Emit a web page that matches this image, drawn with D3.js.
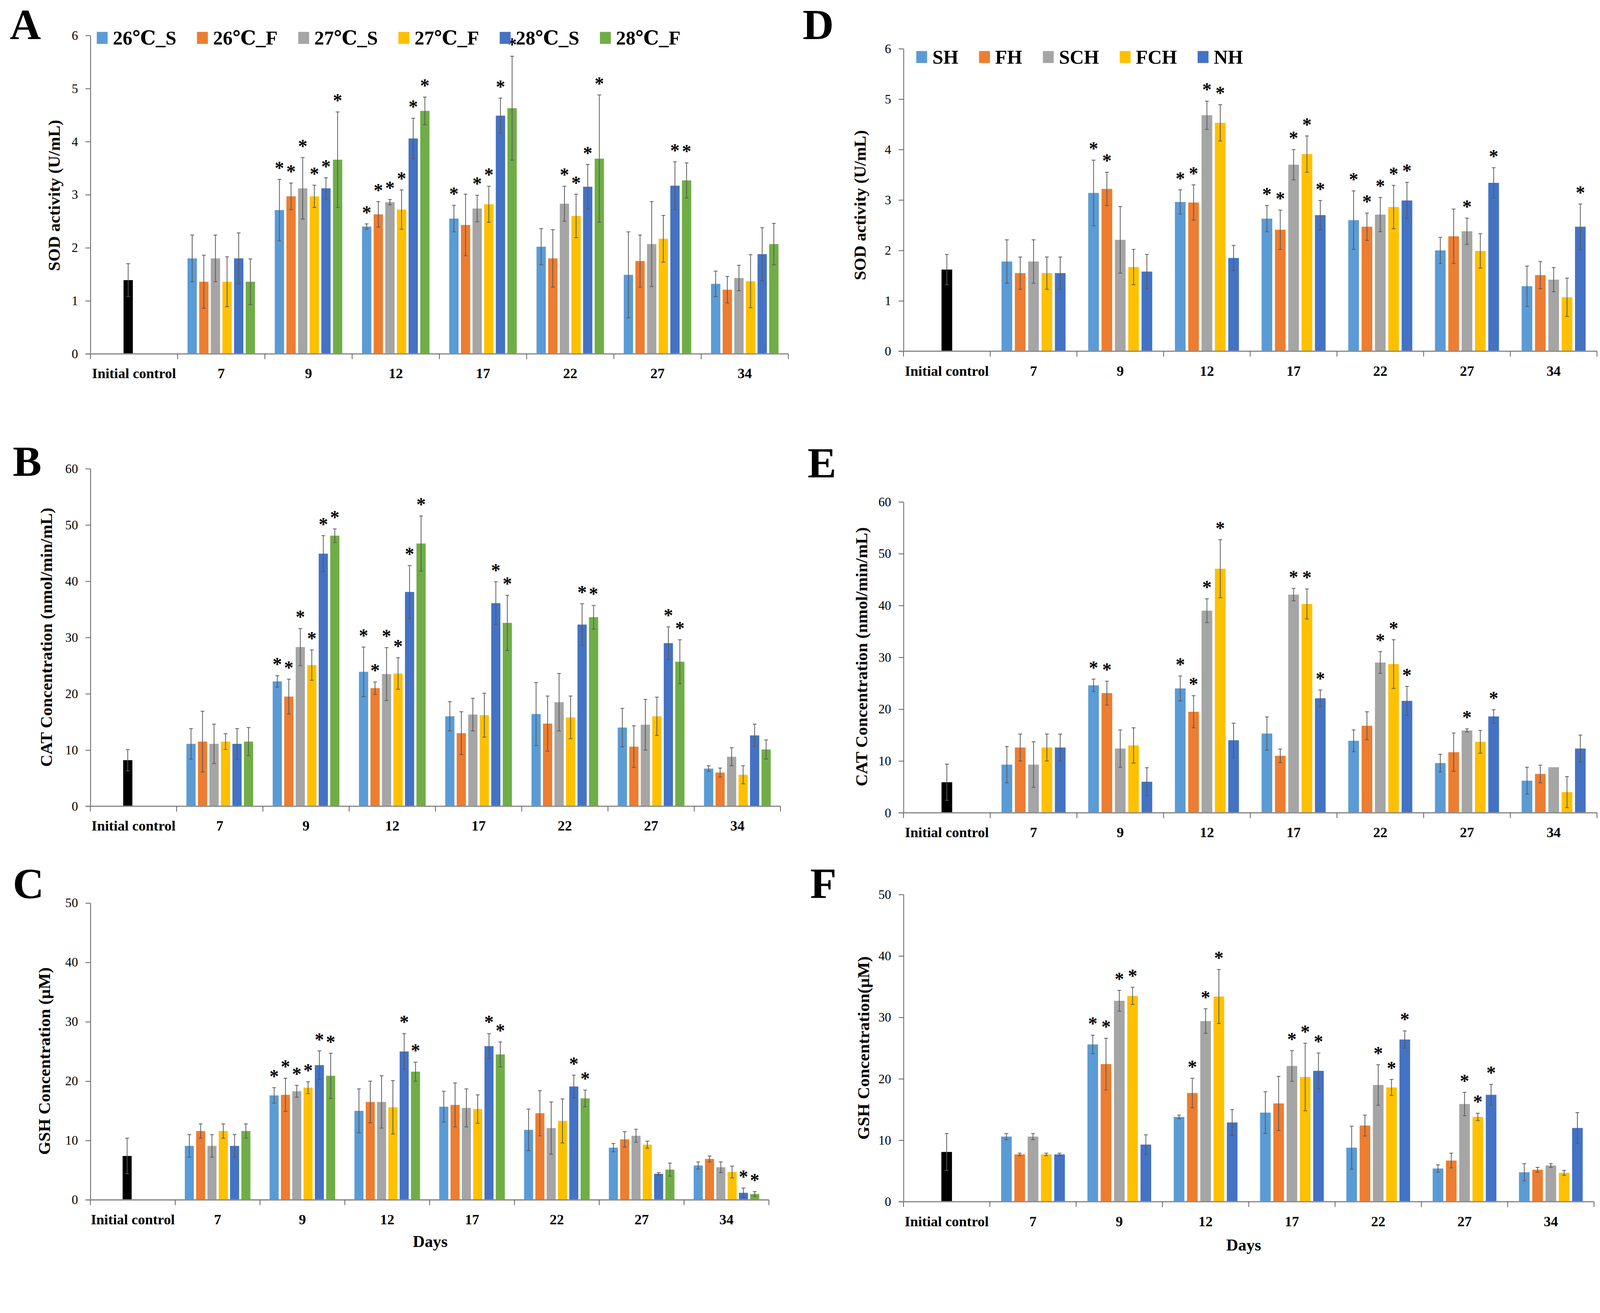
<!DOCTYPE html>
<html><head><meta charset="utf-8">
<script src="https://cdn.jsdelivr.net/npm/d3@7"></script>
<style>html,body{margin:0;padding:0;background:#fff;overflow:hidden}svg{display:block;width:100vw;height:auto}</style>
</head><body>
<svg id="chart" viewBox="0 0 4266 3361" preserveAspectRatio="xMinYMin meet"></svg>
<script>
// ---------------- DATA ----------------
const categories = ["Initial control","7","9","12","17","22","27","34"];
const tempSeries = ["26℃_S","26℃_F","27℃_S","27℃_F","28℃_S","28℃_F"];
const habSeries = ["SH","FH","SCH","FCH","NH"];
const tempColors = ["#5B9BD5","#ED7D31","#A5A5A5","#FFC000","#4472C4","#70AD47"];
const habColors = ["#5B9BD5","#ED7D31","#A5A5A5","#FFC000","#4472C4"];
const controlColor = "#000000";
const yTicksSOD = [0,1,2,3,4,5,6];
const yTicksCAT = [0,10,20,30,40,50,60];
const yTicksGSH = [0,10,20,30,40,50];

// A: SOD, temperature groups  (control = [mean, sd])
const sodTempControl = [1.39, 0.31];
const sodTempMean = [
 [1.80,2.71,2.40,2.55,2.02,1.49,1.32],
 [1.36,2.97,2.63,2.43,1.80,1.75,1.21],
 [1.80,3.12,2.86,2.74,2.83,2.07,1.43],
 [1.36,2.97,2.72,2.82,2.60,2.17,1.37],
 [1.80,3.12,4.06,4.49,3.15,3.17,1.88],
 [1.36,3.66,4.58,4.63,3.68,3.27,2.07]];
const sodTempErr = [
 [0.44,0.58,0.05,0.25,0.34,0.81,0.24],
 [0.50,0.25,0.24,0.58,0.54,0.49,0.25],
 [0.44,0.58,0.05,0.25,0.33,0.80,0.24],
 [0.47,0.21,0.37,0.34,0.41,0.44,0.50],
 [0.48,0.20,0.38,0.33,0.42,0.45,0.50],
 [0.43,0.90,0.26,0.98,1.20,0.33,0.39]];
const sodTempSig = [
 [0,1,1,1,0,0,0],
 [0,1,1,0,0,0,0],
 [0,1,1,1,1,0,0],
 [0,1,1,1,1,0,0],
 [0,1,1,1,1,1,0],
 [0,1,1,1,1,1,0]];

// B: CAT, temperature groups
const catTempControl = [8.2, 1.9];
const catTempMean = [
 [11.1,22.2,23.9,16.0,16.4,14.0,6.7],
 [11.5,19.5,21.0,13.0,14.7,10.6,6.0],
 [11.1,28.3,23.5,16.3,18.5,14.5,8.8],
 [11.5,25.1,23.6,16.2,15.8,16.0,5.6],
 [11.1,44.9,38.1,36.1,32.3,29.0,12.6],
 [11.5,48.1,46.7,32.6,33.6,25.7,10.1]];
const catTempErr = [
 [2.7,1.0,4.4,2.6,5.6,3.4,0.5],
 [5.4,3.1,1.1,3.8,4.9,3.7,0.8],
 [3.5,3.3,4.7,2.9,5.1,4.5,1.6],
 [1.4,2.7,2.8,3.9,3.8,3.4,1.6],
 [2.7,3.2,4.7,3.8,3.7,2.9,2.0],
 [2.5,1.2,4.9,4.9,2.1,3.9,1.7]];
const catTempSig = [
 [0,1,1,0,0,0,0],
 [0,1,1,0,0,0,0],
 [0,1,1,0,0,0,0],
 [0,1,1,0,0,0,0],
 [0,1,1,1,1,1,0],
 [0,1,1,1,1,1,0]];

// C: GSH, temperature groups
const gshTempControl = [7.4, 3.0];
const gshTempMean = [
 [9.1,17.6,15.0,15.7,11.8,8.8,5.8],
 [11.6,17.7,16.5,16.0,14.6,10.2,6.9],
 [9.1,18.3,16.5,15.5,12.1,10.8,5.5],
 [11.6,18.9,15.6,15.3,13.3,9.3,4.7],
 [9.1,22.7,25.0,25.9,19.1,4.4,1.2],
 [11.6,20.9,21.6,24.5,17.1,5.1,1.0]];
const gshTempErr = [
 [1.9,1.3,3.7,2.6,3.5,0.7,0.6],
 [1.2,2.8,3.5,3.7,3.8,1.3,0.5],
 [1.9,1.0,4.4,3.2,4.4,1.1,0.9],
 [1.2,1.0,4.5,2.4,3.7,0.6,1.0],
 [1.9,2.4,3.0,2.1,1.9,0.2,0.8],
 [1.2,3.8,1.6,2.1,1.4,1.1,0.4]];
const gshTempSig = [
 [0,1,0,0,0,0,0],
 [0,1,0,0,0,0,0],
 [0,1,0,0,0,0,0],
 [0,1,0,0,0,0,0],
 [0,1,1,1,1,0,1],
 [0,1,1,1,1,0,1]];

// D: SOD, habitat groups
const sodHabControl = [1.62, 0.30];
const sodHabMean = [
 [1.78,3.14,2.96,2.63,2.60,2.00,1.29],
 [1.55,3.22,2.95,2.41,2.47,2.28,1.51],
 [1.78,2.21,4.68,3.70,2.71,2.38,1.42],
 [1.55,1.67,4.53,3.91,2.86,1.99,1.07],
 [1.55,1.58,1.85,2.70,2.99,3.34,2.47]];
const sodHabErr = [
 [0.43,0.65,0.24,0.26,0.58,0.26,0.40],
 [0.32,0.33,0.35,0.39,0.27,0.54,0.27],
 [0.43,0.66,0.28,0.30,0.34,0.26,0.24],
 [0.32,0.35,0.36,0.36,0.43,0.34,0.38],
 [0.32,0.34,0.25,0.29,0.36,0.30,0.45]];
const sodHabSig = [
 [0,1,1,1,1,0,0],
 [0,1,1,1,1,0,0],
 [0,0,1,1,1,1,0],
 [0,0,1,1,1,0,0],
 [0,0,0,1,1,1,1]];

// E: CAT, habitat groups
const catHabControl = [5.9, 3.5];
const catHabMean = [
 [9.3,24.6,24.0,15.3,13.9,9.6,6.2],
 [12.6,23.1,19.5,11.0,16.8,11.7,7.5],
 [9.3,12.4,39.0,42.1,29.0,15.9,8.8],
 [12.6,13.0,47.1,40.3,28.7,13.7,4.0],
 [12.6,6.0,14.0,22.1,21.6,18.6,12.4]];
const catHabErr = [
 [3.5,1.2,2.4,3.2,2.1,1.7,2.6],
 [2.6,2.3,3.1,1.3,2.7,3.7,1.7],
 [4.4,3.6,2.3,1.2,2.1,0.3,0.0],
 [2.6,3.4,5.6,2.9,4.7,2.2,3.0],
 [2.6,2.7,3.3,1.6,2.8,1.3,2.6]];
const catHabSig = [
 [0,1,1,0,0,0,0],
 [0,1,1,0,0,0,0],
 [0,0,1,1,1,1,0],
 [0,0,1,1,1,0,0],
 [0,0,0,1,1,1,0]];

// F: GSH, habitat groups
const gshHabControl = [8.1, 3.0];
const gshHabMean = [
 [10.6,25.6,13.8,14.5,8.8,5.4,4.8],
 [7.7,22.4,17.7,16.0,12.4,6.7,5.2],
 [10.6,32.7,29.4,22.1,19.0,15.9,5.9],
 [7.7,33.5,33.4,20.3,18.6,13.8,4.7],
 [7.7,9.3,12.9,21.3,26.4,17.4,12.0]];
const gshHabErr = [
 [0.5,1.5,0.3,3.4,3.5,0.6,1.4],
 [0.2,4.2,2.4,4.4,1.7,1.2,0.4],
 [0.5,1.7,2.0,2.5,3.3,1.9,0.3],
 [0.2,1.4,4.4,5.5,1.3,0.6,0.4],
 [0.2,1.6,2.1,2.9,1.4,1.7,2.5]];
const gshHabSig = [
 [0,1,0,0,0,0,0],
 [0,1,1,0,0,0,0],
 [0,1,1,1,1,1,0],
 [0,1,1,1,1,1,0],
 [0,0,0,1,1,1,0]];

// ---------------- LAYOUT ----------------
const SERIF = "'Liberation Serif','DejaVu Serif',serif";
const panels = [
 {label:"A", lx:26, ly:104, x0:241, x1:2102, y0:943.5, yT:94.7, ticks:yTicksSOD,
  title:"SOD activity (U/mL)", tx:145, ty:521, tl:403,
  series:tempSeries, colors:tempColors, control:sodTempControl, mean:sodTempMean, err:sodTempErr, sig:sodTempSig,
  legend:{x:258, y:101}},
 {label:"B", lx:34, ly:1269, x0:241, x1:2081, y0:2149.6, yT:1249.6, ticks:yTicksCAT,
  title:"CAT Concentration (nmol/min/mL)", tx:124, ty:1699, tl:691,
  series:tempSeries, colors:tempColors, control:catTempControl, mean:catTempMean, err:catTempErr, sig:catTempSig},
 {label:"C", lx:34, ly:2394, x0:241, x1:2050, y0:3199, yT:2407.5, ticks:yTicksGSH,
  title:"GSH Concentration (μM)", tx:119, ty:2829, tl:500,
  series:tempSeries, colors:tempColors, control:gshTempControl, mean:gshTempMean, err:gshTempErr, sig:gshTempSig,
  days:{x:1147, y:3325}},
 {label:"D", lx:2140, ly:104, x0:2409, x1:4258, y0:936.5, yT:129.8, ticks:yTicksSOD,
  title:"SOD activity (U/mL)", tx:2293, ty:547, tl:400,
  series:habSeries, colors:habColors, control:sodHabControl, mean:sodHabMean, err:sodHabErr, sig:sodHabSig,
  legend:{x:2443, y:152}},
 {label:"E", lx:2153, ly:1273, x0:2409, x1:4258, y0:2167, yT:1338, ticks:yTicksCAT,
  title:"CAT Concentration (nmol/min/mL)", tx:2298, ty:1751, tl:691,
  series:habSeries, colors:habColors, control:catHabControl, mean:catHabMean, err:catHabErr, sig:catHabSig},
 {label:"F", lx:2160, ly:2394, x0:2409, x1:4250, y0:3203.8, yT:2384.8, ticks:yTicksGSH,
  title:"GSH Concentration(μM)", tx:2303, ty:2794, tl:489,
  series:habSeries, colors:habColors, control:gshHabControl, mean:gshHabMean, err:gshHabErr, sig:gshHabSig,
  days:{x:3316, y:3334}}
];

const svg = d3.select("#chart");
svg.append("rect").attr("width",4266).attr("height",3361).attr("fill","#fff");

function drawPanel(cfg){
  const g = svg.append("g");
  const ymax = cfg.ticks[cfg.ticks.length-1];
  const x = d3.scaleBand().domain(categories).range([cfg.x0, cfg.x1]);
  const y = d3.scaleLinear().domain([0, ymax]).range([cfg.y0, cfg.yT]);
  const xs = d3.scaleBand().domain(d3.range(cfg.series.length)).range([0, x.bandwidth()])
      .paddingInner(0.2).paddingOuter(0.85);

  // build bar records
  const bars = [];
  bars.push({cat:categories[0], s:2, v:cfg.control[0], e:cfg.control[1], sig:0, color:controlColor});
  cfg.series.forEach((name, si) => {
    cfg.mean[si].forEach((v, di) => {
      bars.push({cat:categories[di+1], s:si, v:v, e:cfg.err[si][di], sig:cfg.sig[si][di], color:cfg.colors[si]});
    });
  });

  // y axis
  const yAxis = d3.axisLeft(y).tickValues(cfg.ticks).tickFormat(d3.format("d"))
      .tickSize(13).tickSizeOuter(0).tickPadding(20);
  const ya = g.append("g").attr("transform", `translate(${cfg.x0},0)`).call(yAxis);
  ya.select(".domain").attr("stroke","#595959").attr("stroke-width",2);
  ya.selectAll(".tick line").attr("stroke","#595959").attr("stroke-width",2);
  ya.selectAll(".tick text").attr("font-family",SERIF).attr("font-size",34).attr("fill","#000");

  // bars
  g.append("g").selectAll("rect").data(bars).join("rect")
    .attr("x", d => x(d.cat) + xs(d.s))
    .attr("width", xs.bandwidth())
    .attr("y", d => y(d.v))
    .attr("height", d => y(0) - y(d.v))
    .attr("fill", d => d.color);

  // error bars
  const eb = g.append("g").attr("stroke","#595959").attr("stroke-width",2).attr("fill","none");
  bars.filter(d => d.e > 0).forEach(d => {
    const cx = x(d.cat) + xs(d.s) + xs.bandwidth()/2;
    const yt = y(d.v + d.e), yb = y(Math.max(0, d.v - d.e));
    eb.append("line").attr("x1",cx).attr("x2",cx).attr("y1",yt).attr("y2",yb);
    eb.append("line").attr("x1",cx-5).attr("x2",cx+5).attr("y1",yt).attr("y2",yt);
    eb.append("line").attr("x1",cx-5).attr("x2",cx+5).attr("y1",yb).attr("y2",yb);
  });

  // significance stars
  g.append("g").selectAll("text").data(bars.filter(d => d.sig)).join("text")
    .attr("x", d => x(d.cat) + xs(d.s) + xs.bandwidth()/2)
    .attr("y", d => y(d.v + d.e) - 14)
    .attr("text-anchor","middle")
    .attr("font-family",SERIF).attr("font-weight","bold").attr("font-size",50)
    .text("*");

  // x axis baseline and ticks
  g.append("line").attr("x1",cfg.x0-13).attr("x2",cfg.x1).attr("y1",y(0)).attr("y2",y(0))
    .attr("stroke","#8C8C8C").attr("stroke-width",3.5);
  const bounds = categories.map(c => x(c)).concat([cfg.x1]);
  g.append("g").selectAll("line").data(bounds).join("line")
    .attr("x1",d=>d).attr("x2",d=>d).attr("y1",y(0)).attr("y2",y(0)+14)
    .attr("stroke","#595959").attr("stroke-width",2);
  g.append("g").selectAll("text").data(categories).join("text")
    .attr("x", d => x(d) + x.bandwidth()/2)
    .attr("y", y(0) + 65)
    .attr("text-anchor","middle")
    .attr("font-family",SERIF).attr("font-weight","bold").attr("font-size",38)
    .text(d => d);

  // y title
  g.append("text")
    .attr("transform", `translate(${cfg.tx},${cfg.ty}) rotate(-90)`)
    .attr("text-anchor","middle").attr("dominant-baseline","central")
    .attr("font-family",SERIF).attr("font-weight","bold").attr("font-size",43)
    .attr("textLength", cfg.tl).attr("lengthAdjust","spacingAndGlyphs")
    .text(cfg.title);

  // panel letter
  g.append("text").attr("x",cfg.lx).attr("y",cfg.ly)
    .attr("font-family",SERIF).attr("font-weight","bold").attr("font-size",115)
    .text(cfg.label);

  if (cfg.days){
    g.append("text").attr("x",cfg.days.x).attr("y",cfg.days.y).attr("text-anchor","middle")
      .attr("font-family",SERIF).attr("font-weight","bold").attr("font-size",44).text("Days");
  }

  if (cfg.legend){
    const lg = g.append("g");
    let cx = cfg.legend.x;
    cfg.series.forEach((name, i) => {
      lg.append("rect").attr("x",cx).attr("y",cfg.legend.y-16).attr("width",29).attr("height",32)
        .attr("fill",cfg.colors[i]);
      const t = lg.append("text").attr("x",cx+43).attr("y",cfg.legend.y+18)
        .attr("font-family",SERIF).attr("font-weight","bold").attr("font-size",52).text(name);
      cx = cx + 43 + t.node().getComputedTextLength() + 55;
    });
  }
}

panels.forEach(drawPanel);
</script>
</body></html>
